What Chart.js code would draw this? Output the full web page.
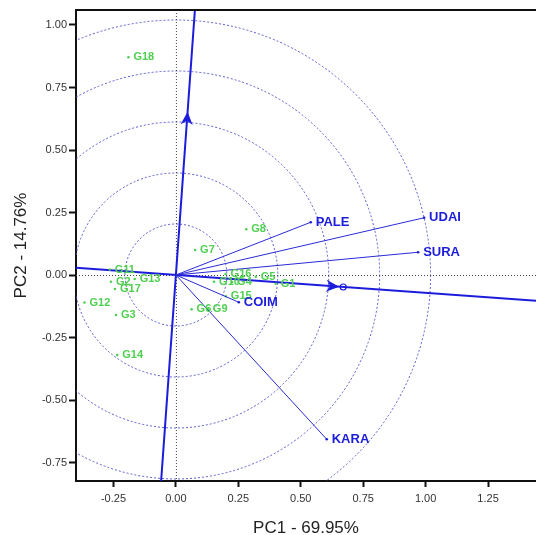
<!DOCTYPE html>
<html>
<head>
<meta charset="utf-8">
<script src="https://cdn.jsdelivr.net/npm/chart.js@4"></script>
<style>
  html, body { margin: 0; padding: 0; background: #fff; overflow: hidden; }
  canvas { display: block; }
</style>
</head>
<body>
<canvas id="biplot" width="536" height="535"></canvas>
<script>
// GGE biplot data
const genotypes = ['G1','G2','G3','G4','G5','G6','G7','G8','G9','G10','G11','G12','G13','G14','G15','G16','G17','G18'];
const genoPC1 = [0.40, -0.26, -0.24, 0.225, 0.32, 0.063, 0.077, 0.282, 0.128, 0.153, -0.265, -0.366, -0.165, -0.235, 0.20, 0.199, -0.244, -0.19];
const genoPC2 = [-0.035, -0.027, -0.16, -0.028, -0.007, -0.137, 0.10, 0.183, -0.137, -0.027, 0.022, -0.11, -0.016, -0.32, -0.085, 0.004, -0.056, 0.871];

const environments = ['PALE','UDAI','SURA','COIM','KARA'];
const envPC1 = [0.540, 0.994, 0.970, 0.252, 0.604];
const envPC2 = [0.211, 0.229, 0.091, -0.109, -0.657];

// average environment point
const avgEnv = [0.670, -0.048];
const circleRadii = [0.204, 0.408, 0.612, 0.816, 1.02];

const xTicks = [-0.25, 0, 0.25, 0.5, 0.75, 1.0, 1.25];
const yTicks = [-0.75, -0.5, -0.25, 0, 0.25, 0.5, 0.75, 1.0];

const GREEN = '#4fcf4f';
const BLUE = '#1c1cdc';

// ============================================================================
// helper plugin: circles, zero lines, AEC axes, labels
// ============================================================================

function drawArrow(ctx, tx, ty, ang) {
  ctx.save();
  ctx.translate(tx, ty);
  ctx.rotate(ang);
  ctx.beginPath();
  ctx.moveTo(0, 0);
  ctx.lineTo(-13, -6);
  ctx.lineTo(-9, 0);
  ctx.lineTo(-13, 6);
  ctx.closePath();
  ctx.fillStyle = BLUE;
  ctx.fill();
  ctx.restore();
}

const bgPlugin = {
  id: 'bgPlugin',
  beforeDatasetsDraw(chart) {
    const { ctx, chartArea: a, scales: { x, y } } = chart;
    const ox = x.getPixelForValue(0), oy = y.getPixelForValue(0);
    const sx = x.getPixelForValue(1) - ox, sy = oy - y.getPixelForValue(1);
    ctx.save();
    ctx.beginPath();
    ctx.rect(a.left, a.top, a.right - a.left, a.bottom - a.top);
    ctx.clip();

    // concentric circles
    ctx.strokeStyle = '#5a5ad0';
    ctx.lineWidth = 1;
    ctx.setLineDash([2, 2]);
    circleRadii.forEach((r) => {
      ctx.beginPath();
      ctx.ellipse(ox, oy, r * sx, r * sy, 0, 0, Math.PI * 2);
      ctx.stroke();
    });

    // zero lines
    ctx.strokeStyle = '#444';
    ctx.setLineDash([1, 2]);
    ctx.beginPath();
    ctx.moveTo(ox + 0.5, a.top);
    ctx.lineTo(ox + 0.5, a.bottom);
    ctx.moveTo(a.left, oy + 0.5);
    ctx.lineTo(a.right, oy + 0.5);
    ctx.stroke();
    ctx.setLineDash([]);

    // average environment axis (abscissa) and ordinate
    const ax = avgEnv[0] * sx, ay = -avgEnv[1] * sy;
    const len = Math.hypot(ax, ay);
    const ux = ax / len, uy = ay / len;
    const far = 2000;
    ctx.strokeStyle = BLUE;
    ctx.lineWidth = 2;
    ctx.beginPath();
    ctx.moveTo(ox - ux * far, oy - uy * far);
    ctx.lineTo(ox + ux * far, oy + uy * far);
    ctx.moveTo(ox - uy * far, oy + ux * far);
    ctx.lineTo(ox + uy * far, oy - ux * far);
    ctx.stroke();

    const tipLen = len - 4;
    drawArrow(ctx, ox + ux * tipLen, oy + uy * tipLen, Math.atan2(uy, ux));
    drawArrow(ctx, ox + uy * tipLen, oy - ux * tipLen, Math.atan2(-ux, uy));

    ctx.lineWidth = 1.2;
    ctx.beginPath();
    ctx.arc(ox + ax, oy + ay, 3, 0, Math.PI * 2);
    ctx.stroke();
    ctx.restore();

    // top frame line
    ctx.save();
    ctx.strokeStyle = '#111';
    ctx.lineWidth = 2;
    ctx.beginPath();
    ctx.moveTo(a.left, a.top);
    ctx.lineTo(chart.width, a.top);
    ctx.stroke();
    ctx.restore();
  },
  afterDatasetsDraw(chart) {
    const { ctx, scales: { x, y } } = chart;
    ctx.save();
    ctx.textBaseline = 'middle';
    ctx.textAlign = 'left';

    ctx.font = 'bold 11px "Liberation Sans", Arial, sans-serif';
    ctx.fillStyle = GREEN;
    genotypes.forEach((g, i) => {
      ctx.fillText(g, x.getPixelForValue(genoPC1[i]) + 5, y.getPixelForValue(genoPC2[i]));
    });

    ctx.font = 'bold 13px "Liberation Sans", Arial, sans-serif';
    ctx.fillStyle = BLUE;
    environments.forEach((e, i) => {
      ctx.fillText(e, x.getPixelForValue(envPC1[i]) + 5, y.getPixelForValue(envPC2[i]));
    });
    ctx.restore();
  }
};

// ============================================================================
// Datasets
// ============================================================================

const envDatasets = environments.map((e, i) => ({
  label: e,
  data: [{ x: 0, y: 0 }, { x: envPC1[i], y: envPC2[i] }],
  showLine: true,
  borderColor: '#2a2ad6',
  borderWidth: 1,
  pointRadius: [0, 1.3],
  pointBackgroundColor: BLUE,
  pointBorderWidth: 0
}));

const genoDataset = {
  label: 'Genotypes',
  data: genotypes.map((g, i) => ({ x: genoPC1[i], y: genoPC2[i] })),
  pointRadius: 1.3,
  pointBorderWidth: 0,
  pointBackgroundColor: GREEN
};

const tickFont = { family: '"Liberation Sans", Arial, sans-serif', size: 11 };
const titleFont = { family: '"Liberation Sans", Arial, sans-serif', size: 17 };

new Chart(document.getElementById('biplot'), {
  type: 'scatter',
  data: { datasets: [...envDatasets, genoDataset] },
  plugins: [bgPlugin],
  options: {
    responsive: false,
    animation: false,
    layout: { autoPadding: false, padding: { top: 10, right: 0, left: 0, bottom: 0 } },
    plugins: { legend: { display: false }, tooltip: { enabled: false } },
    scales: {
      x: {
        type: 'linear',
        min: -0.4,
        max: 1.442,
        afterBuildTicks: (s) => { s.ticks = xTicks.map((v) => ({ value: v })); },
        afterFit: (s) => { s.height = 54; s.paddingRight = 0; },
        grid: { drawOnChartArea: false, drawTicks: true, tickLength: 6, tickWidth: 2, tickColor: '#111' },
        border: { color: '#111', width: 2 },
        ticks: { color: '#333', font: tickFont, padding: 5, maxRotation: 0, callback: (v) => Number(v).toFixed(2) },
        title: { display: true, text: 'PC1 - 69.95%', color: '#222', font: titleFont, padding: { top: 0, bottom: -4 } }
      },
      y: {
        type: 'linear',
        min: -0.824,
        max: 1.06,
        afterBuildTicks: (s) => { s.ticks = yTicks.map((v) => ({ value: v })); },
        afterFit: (s) => { s.width = 76; },
        grid: { drawOnChartArea: false, drawTicks: true, tickLength: 7, tickWidth: 2, tickColor: '#111' },
        border: { color: '#111', width: 2 },
        ticks: { color: '#333', font: tickFont, padding: 2, callback: (v) => Number(v).toFixed(2) },
        title: { display: true, text: 'PC2 - 14.76%', color: '#222', font: titleFont, padding: { top: 11, bottom: 0 } }
      }
    }
  }
});
</script>
</body>
</html>
